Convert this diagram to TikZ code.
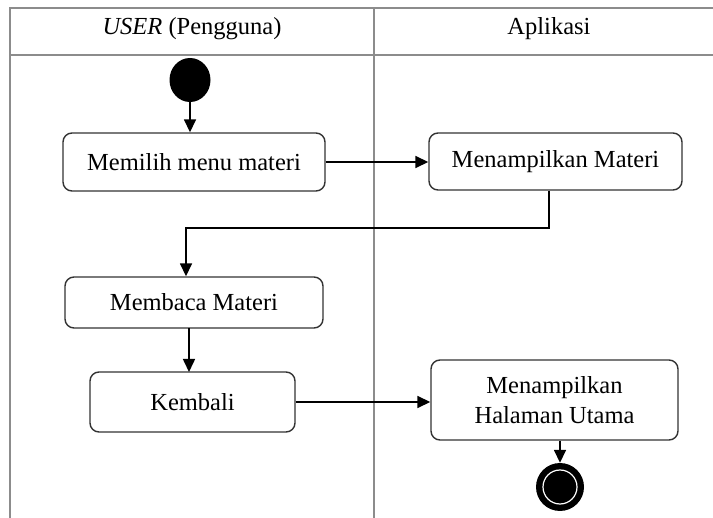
\documentclass[tikz,border=0pt]{standalone}
\usepackage{fontspec}
\setmainfont{Liberation Serif}
\usetikzlibrary{arrows.meta,shapes.geometric}
\begin{document}
\begin{tikzpicture}[x=1pt,y=-1pt,
  lane/.style={draw=black!45,line width=1.3pt},
  act/.style={draw=black!80,line width=1.4pt,rounded corners=9pt,fill=white,
    align=center,font=\fontsize{24.5}{30}\selectfont,inner sep=0pt},
  flow/.style={draw=black,line width=1.6pt,-{Triangle[length=13pt,width=12pt]}},
  hdr/.style={font=\fontsize{24.5}{28}\selectfont,inner sep=0pt}]
\useasboundingbox (0,0) rectangle (713,518);
% swimlane grid
\draw[lane] (10,518) -- (10,8) -- (713,8);
\draw[lane] (10,55) -- (713,55);
\draw[lane] (374,8) -- (374,518);
\node[hdr] (h1) at (192,29) {\textit{USER} (Pengguna)};
\node[hdr] (h2) at (549,29) {Aplikasi};
% initial node
\node[ellipse,fill=black,minimum width=41pt,minimum height=44pt,inner sep=0pt] (start) at (190,80) {};
% actions
\node[act,minimum width=262pt,minimum height=58pt] (a1) at (194,162) {Memilih menu materi};
\node[act,minimum width=253pt,minimum height=57pt] (a2) at (555.5,161.5) {Menampilkan Materi};
\node[act,minimum width=258pt,minimum height=51pt] (a3) at (194,302.5) {Membaca Materi};
\node[act,minimum width=205pt,minimum height=60pt] (a4) at (192.5,402) {Kembali};
\node[act,minimum width=247pt,minimum height=80pt] (a5) at (554.5,400) {Menampilkan\\Halaman Utama};
% final node
\node[circle,fill=black,minimum size=48pt,inner sep=0pt] (fin) at (560,487) {};
\node[circle,draw=white,line width=1.2pt,minimum size=34pt,inner sep=0pt] (finring) at (fin.center) {};
% transitions
\coordinate (b1) at (549,228);
\coordinate (b2) at (186,228);
\draw[flow] (start) -- (start |- a1.north);
\draw[flow] (a1.east) -- (a2.west |- a1.east);
\draw[flow] (a2.south -| b1) -- (b1) -- (b2) -- (b2 |- a3.north);
\draw[flow] (189,328) -- (189,372);
\draw[flow] (a4.east) -- (a5.west |- a4.east);
\draw[flow] (a5.south -| fin) -- (fin.north);
\end{tikzpicture}
\end{document}
